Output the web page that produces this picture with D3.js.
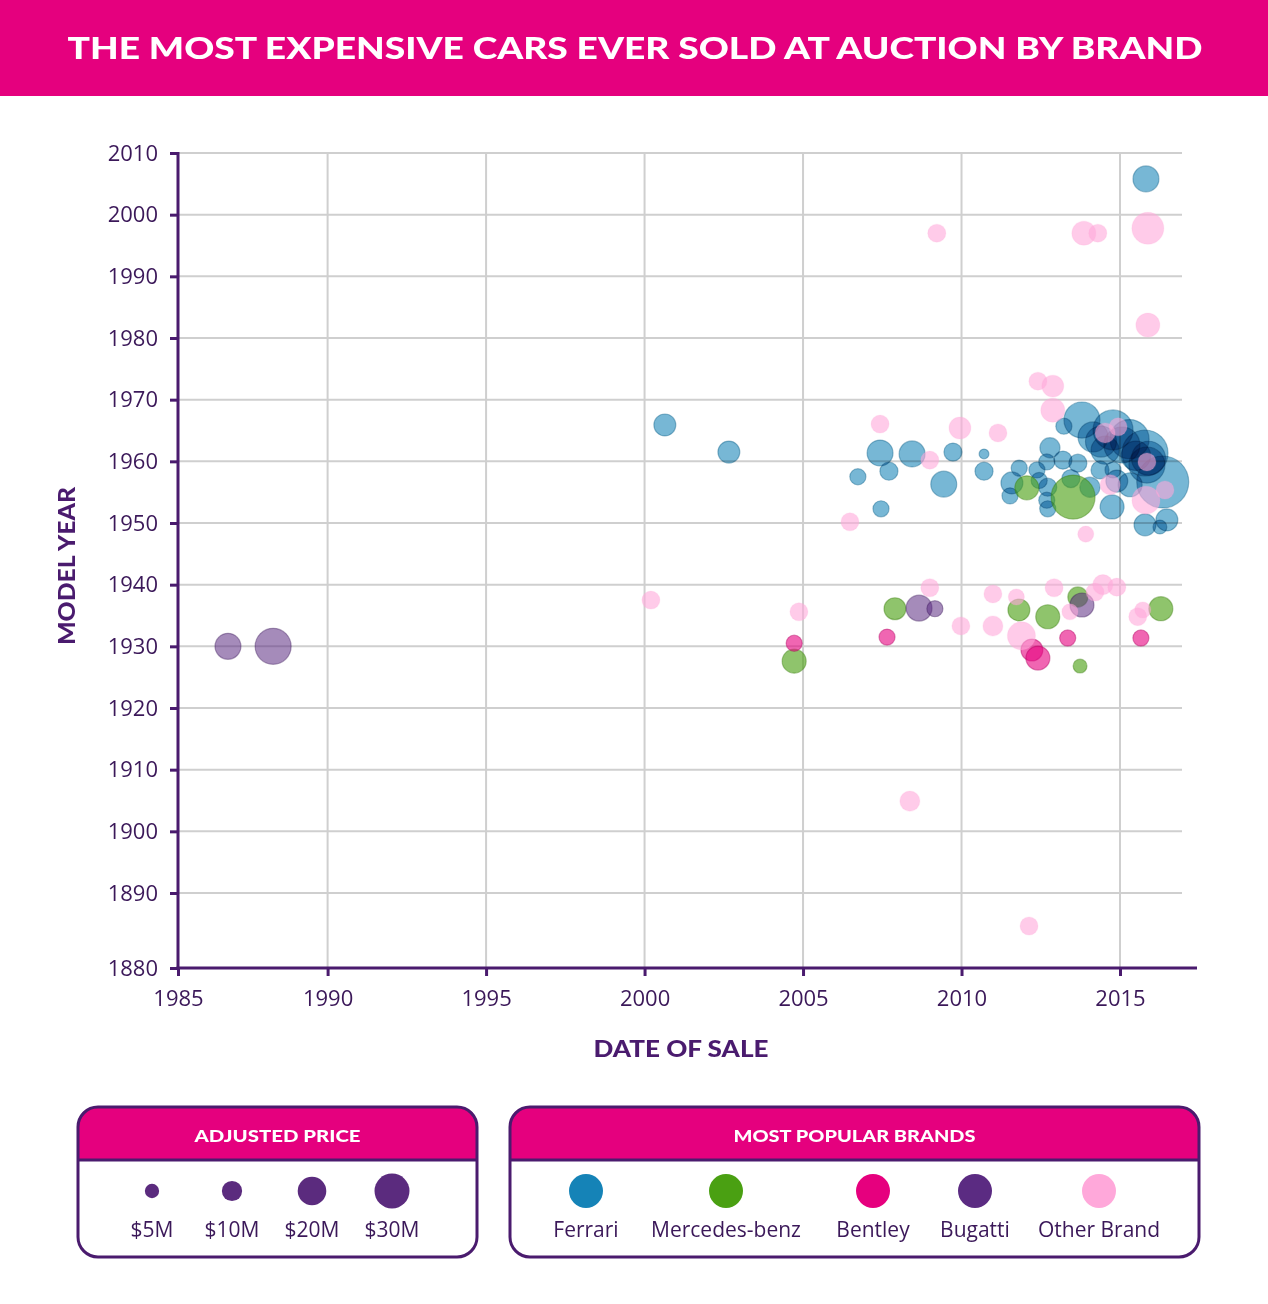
<!DOCTYPE html>
<html><head><meta charset="utf-8">
<script src="https://cdn.jsdelivr.net/npm/d3@7"></script>
<style>
html,body{margin:0;padding:0;background:#fff;}
svg{display:block;}
</style></head>
<body>
<svg id="chart" width="1268" height="1304"></svg>
<script>
// ---------- DATA ----------
// each entry: [date of sale (year), model year, adjusted price ($M)]
const ferrari = [
  [2000.64,1965.9,5.0],[2002.66,1961.5,5.0],[2007.43,1961.35,7.0],[2008.44,1961.2,7.0],
  [2009.73,1961.5,3.4],[2010.71,1961.2,1.0],[2006.73,1957.5,2.7],[2007.71,1958.4,3.4],
  [2009.44,1956.3,7.0],[2010.71,1958.4,3.4],[2007.46,1952.3,2.7],[2015.82,2005.8,7.0],
  [2011.82,1958.9,2.7],[2011.59,1956.5,5.0],[2011.53,1954.4,2.7],[2012.38,1958.6,2.7],
  [2012.79,1962.2,4.2],[2012.69,1959.9,2.7],[2013.2,1960.2,3.4],[2012.72,1955.8,3.4],
  [2012.69,1953.7,2.7],[2012.72,1952.3,2.7],[2013.67,1959.7,3.4],[2014.05,1955.8,4.2],
  [2014.37,1958.6,3.4],[2014.75,1952.6,6.0],[2013.8,1966.7,13.5],[2013.23,1965.7,2.7],
  [2014.15,1963.95,9.4],[2014.78,1965.1,16.6],[2015.06,1962.65,13.5],[2015.79,1961.35,22.0],
  [2015.85,1959.4,13.5],[2016.35,1956.65,28.1],[2015.79,1949.7,5.0],[2016.48,1950.5,5.0],
  [2016.26,1949.35,2.0],[2014.78,1958.6,2.7],[2015.32,1956.2,6.0],[2014.53,1961.8,8.2],
  [2015.3,1963.6,16.0],[2014.4,1963.2,10.0],[2015.9,1960.5,12.0],[2015.5,1960.9,9.0],
  [2014.9,1956.8,5.0],[2013.45,1957.2,3.4],[2012.45,1956.9,2.7]
];
const mercedes = [
  [2004.72,1927.6,6.0],[2012.06,1955.7,6.0],[2013.52,1954.2,20.1],[2007.9,1936.1,5.0],
  [2011.81,1935.9,5.0],[2012.72,1934.8,6.0],[2013.67,1938.0,4.2],[2013.74,1926.8,2.0],
  [2016.29,1936.1,6.0]
];
const bentley = [
  [2004.72,1930.5,2.7],[2007.65,1931.5,2.7],[2012.22,1929.4,5.0],[2012.41,1928.1,6.0],
  [2013.35,1931.35,2.7],[2015.66,1931.35,2.7]
];
const bugatti = [
  [1986.67,1930.0,7.0],[1988.18,1930.0,13.5],[2008.66,1936.2,7.0],[2009.16,1936.1,2.7],
  [2013.8,1936.7,6.0]
];
const otherBrand = [
  [2000.2,1937.5,3.4],[2004.87,1935.6,3.4],[2007.43,1966.05,3.4],[2009.0,1960.2,3.4],
  [2009.95,1965.4,5.0],[2011.15,1964.6,3.4],[2006.48,1950.2,3.4],[2012.41,1973.0,3.4],
  [2012.88,1972.2,5.0],[2012.88,1968.3,6.0],[2014.53,1964.6,4.2],[2014.94,1965.6,3.4],
  [2015.85,1959.9,3.4],[2014.69,1956.2,4.2],[2015.82,1953.7,8.2],[2016.42,1955.35,3.4],
  [2013.92,1948.2,2.7],[2009.22,1997.0,3.4],[2013.86,1997.0,6.0],[2014.3,1997.0,3.4],
  [2015.88,1997.8,10.65],[2015.88,1982.1,6.0],[2008.37,1904.9,4.2],[2012.13,1885.6,3.4],
  [2009.0,1939.5,3.4],[2009.98,1933.3,3.4],[2010.99,1938.5,3.4],[2010.99,1933.3,4.2],
  [2011.73,1938.0,2.7],[2011.89,1931.7,8.2],[2012.92,1939.5,3.4],[2013.42,1935.6,2.7],
  [2014.21,1938.8,3.4],[2014.46,1940.0,4.2],[2014.9,1939.6,3.4],[2015.56,1934.8,3.4],
  [2015.72,1935.9,2.7]
];
const brands = ["Ferrari","Mercedes-benz","Bentley","Bugatti","Other Brand"];
const brandColors = ["#1583b7","#4aa012","#e6007e","#5b2b82","#ffa8da"];
const xTicks = [1985,1990,1995,2000,2005,2010,2015];
const yTicks = [1880,1890,1900,1910,1920,1930,1940,1950,1960,1970,1980,1990,2000,2010];
const priceLegend = [5,10,20,30];
const priceLabels = ["$5M","$10M","$20M","$30M"];
const title = "THE MOST EXPENSIVE CARS EVER SOLD AT AUCTION BY BRAND";

// ---------- DRAW ----------
const svg = d3.select("#chart");
const purple = "#4a1b6e", textPurple = "#3b1859", magenta = "#e5007e";

svg.append("rect").attr("x",0).attr("y",0).attr("width",1268).attr("height",96).attr("fill",magenta);
svg.append("text").attr("x",635).attr("y",59).attr("text-anchor","middle")
  .attr("font-family","Lato, 'Open Sans', sans-serif").attr("font-weight",900).attr("font-size",31)
  .attr("fill","#fff").attr("textLength",1135).attr("lengthAdjust","spacingAndGlyphs").text(title);

const x = d3.scaleLinear().domain([1985,1990,2015,2017.4]).range([178,327.6,1120,1196]);
const y = d3.scaleLinear().domain([1880,1890,2010]).range([968,893,153]);
const r = d3.scaleSqrt().domain([0,40]).range([0,31]);

// grid
const grid = svg.append("g");
grid.selectAll("line.h").data(yTicks.filter(d=>d>1880)).join("line")
  .attr("x1",178).attr("x2",1182).attr("y1",d=>y(d)).attr("y2",d=>y(d))
  .attr("stroke","#cfcfcf").attr("stroke-width",2);
grid.selectAll("line.v").data(xTicks.filter(d=>d>1985)).join("line")
  .attr("y1",153).attr("y2",968).attr("x1",d=>x(d)).attr("x2",d=>x(d))
  .attr("stroke","#cfcfcf").attr("stroke-width",2);

// bubbles
const series = [ferrari, mercedes, bentley, bugatti, otherBrand];
const opac = [0.58,0.62,0.6,0.55,0.6];
const strokeCols = ["#0d5f88","#3a7d0c","#b00060","#3f1c5c","#ffa8da"];
series.forEach((s,i)=>{
  const g = svg.append("g");
  g.selectAll("circle").data(s).join("circle")
    .attr("cx",d=>x(d[0])).attr("cy",d=>y(d[1])).attr("r",d=>r(d[2]))
    .attr("fill",brandColors[i]).attr("fill-opacity",opac[i])
    .attr("stroke",strokeCols[i]).attr("stroke-opacity",i===4?0.15:0.4).attr("stroke-width",1.2)
    .style("mix-blend-mode", i===0 ? "multiply" : null);
});

// axes
const yAxis = svg.append("g").attr("transform","translate(178,0)")
  .call(d3.axisLeft(y).tickValues(yTicks).tickFormat(d3.format("d")).tickSize(8).tickPadding(12));
const xAxis = svg.append("g").attr("transform","translate(0,968)")
  .call(d3.axisBottom(x).tickValues(xTicks).tickFormat(d3.format("d")).tickSize(8).tickPadding(14));
[yAxis,xAxis].forEach(a=>{
  a.select(".domain").remove();
  a.selectAll(".tick line").attr("stroke",purple).attr("stroke-width",3);
  a.selectAll(".tick text").attr("fill",textPurple).attr("font-size",22)
    .attr("font-family","'Open Sans', sans-serif");
});
svg.append("line").attr("x1",178).attr("x2",178).attr("y1",152).attr("y2",969.5)
  .attr("stroke",purple).attr("stroke-width",3);
svg.append("line").attr("x1",176.5).attr("x2",1197).attr("y1",968).attr("y2",968)
  .attr("stroke",purple).attr("stroke-width",3);

svg.append("text").attr("x",681).attr("y",1057).attr("text-anchor","middle")
  .attr("font-family","Lato, 'Open Sans', sans-serif").attr("font-weight",900).attr("font-size",22)
  .attr("fill",purple).attr("textLength",175).attr("lengthAdjust","spacingAndGlyphs").text("DATE OF SALE");
svg.append("text").attr("transform","translate(75,566) rotate(-90)").attr("text-anchor","middle")
  .attr("font-family","Lato, 'Open Sans', sans-serif").attr("font-weight",900).attr("font-size",22)
  .attr("fill",purple).attr("textLength",158).attr("lengthAdjust","spacingAndGlyphs").text("MODEL YEAR");

// legends
function box(x0,x1,label,labelW){
  const top=1107,bot=1257,hb=1160,rad=20;
  const g=svg.append("g");
  g.append("rect").attr("x",x0).attr("y",top).attr("width",x1-x0).attr("height",bot-top)
    .attr("rx",rad).attr("fill","#fff");
  g.append("path").attr("d",`M${x0},${hb} L${x0},${top+rad} Q${x0},${top} ${x0+rad},${top} L${x1-rad},${top} Q${x1},${top} ${x1},${top+rad} L${x1},${hb} Z`)
    .attr("fill",magenta);
  g.append("line").attr("x1",x0).attr("x2",x1).attr("y1",hb).attr("y2",hb).attr("stroke",purple).attr("stroke-width",3);
  g.append("rect").attr("x",x0).attr("y",top).attr("width",x1-x0).attr("height",bot-top)
    .attr("rx",rad).attr("fill","none").attr("stroke",purple).attr("stroke-width",3);
  g.append("text").attr("x",(x0+x1)/2).attr("y",1142).attr("text-anchor","middle")
    .attr("font-family","Lato, 'Open Sans', sans-serif").attr("font-weight",900).attr("font-size",17)
    .attr("fill","#fff").attr("textLength",labelW).attr("lengthAdjust","spacingAndGlyphs").text(label);
  return g;
}
const lg1 = box(78,477,"ADJUSTED PRICE",166);
const lr = d3.scaleSqrt().domain([0,30]).range([0,17.5]);
const pxs = [152,232,312,392];
lg1.selectAll("circle.p").data(priceLegend).join("circle")
  .attr("cx",(d,i)=>pxs[i]).attr("cy",1191).attr("r",d=>lr(d)).attr("fill","#5b2b7e");
lg1.selectAll("text.p").data(priceLabels).join("text")
  .attr("x",(d,i)=>pxs[i]).attr("y",1237).attr("text-anchor","middle")
  .attr("font-family","'Open Sans', sans-serif").attr("font-size",21).attr("fill",textPurple).text(d=>d);

const lg2 = box(510,1199,"MOST POPULAR BRANDS",242);
const bxs = [586,726,873,975,1099];
lg2.selectAll("circle.b").data(brands).join("circle")
  .attr("cx",(d,i)=>bxs[i]).attr("cy",1191).attr("r",17).attr("fill",(d,i)=>brandColors[i]);
lg2.selectAll("text.b").data(brands).join("text")
  .attr("x",(d,i)=>bxs[i]).attr("y",1237).attr("text-anchor","middle")
  .attr("font-family","'Open Sans', sans-serif").attr("font-size",21).attr("fill",textPurple).text(d=>d);
</script>
</body></html>
